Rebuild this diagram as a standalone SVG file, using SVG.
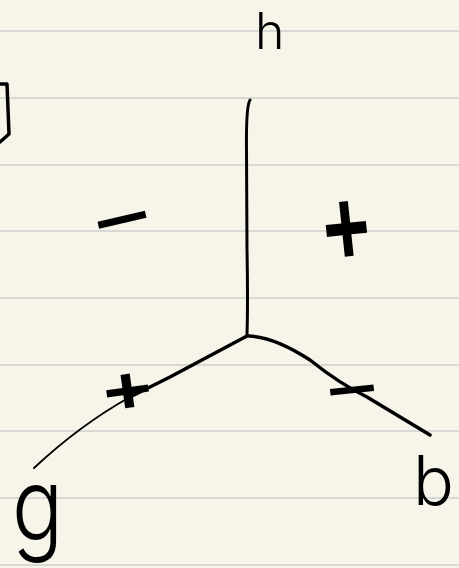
<svg xmlns="http://www.w3.org/2000/svg" width="459" height="568" viewBox="0 0 459 568">
<style>
.rule{stroke:#d8d8d4;stroke-width:2}
.ink{fill:none;stroke:#000;stroke-linecap:round;stroke-linejoin:round}
.lbl{font-family:Inter,"Noto Sans","DejaVu Sans",sans-serif;font-weight:300;fill:#000}
.sign{font-family:"Liberation Sans",Arial,sans-serif;font-weight:bold;fill:#000;text-anchor:middle}
.minus{font-family:"Liberation Sans",Arial,sans-serif;font-weight:normal;fill:#000;text-anchor:middle}
</style>
<rect width="459" height="568" fill="#f7f5ea"/>
<g id="ruling">
<line class="rule" x1="0" y1="31" x2="459" y2="31"/>
<line class="rule" x1="0" y1="98" x2="459" y2="98"/>
<line class="rule" x1="0" y1="165" x2="459" y2="165"/>
<line class="rule" x1="0" y1="231" x2="459" y2="231"/>
<line class="rule" x1="0" y1="298" x2="459" y2="298"/>
<line class="rule" x1="0" y1="365" x2="459" y2="365"/>
<line class="rule" x1="0" y1="431" x2="459" y2="431"/>
<line class="rule" x1="0" y1="498" x2="459" y2="498"/>
<line class="rule" x1="0" y1="565" x2="459" y2="565"/>
</g>
<g id="bracket">
<path class="ink" stroke-width="3.5" d="M0,84 L7,84 L9,134 L0,142"/>
</g>
<g id="connectors">
<path class="ink" stroke-width="3" d="M250,100 Q246,106 246.5,150 L247,250 Q248,300 247,335"/>
<path class="ink" stroke-width="3.5" d="M247,336 L170,377 L130,397"/>
<path class="ink" stroke-width="2" d="M130,397 Q80,425 34,468"/>
<path class="ink" stroke-width="3.5" d="M249,336 Q275,337 310,360 Q340,384 367,397 L430,435"/>
</g>
<g id="node-h"><text class="lbl" x="255" y="49" font-size="50">h</text></g>
<g id="node-g"><text class="lbl" transform="translate(12,541) scale(1,1.2)" x="0" y="0" font-size="85">g</text></g>
<g id="node-b"><text class="lbl" x="413" y="505" font-size="68">b</text></g>
<g id="sign-minus-left"><text class="minus" transform="translate(122,220) rotate(-13)" x="0" y="33" font-size="100">−</text></g>
<g id="sign-plus-right"><text class="sign" transform="translate(347,234) rotate(-6) scale(1.15,1.55)" x="0" y="20" font-size="70">+</text></g>
<g id="sign-plus-g"><text class="sign" transform="translate(128,394) rotate(-8) scale(1.2,0.95)" x="0" y="20" font-size="70">+</text></g>
<g id="sign-minus-b"><text class="minus" transform="translate(352,390) rotate(-6)" x="0" y="30" font-size="90">−</text></g>
</svg>
